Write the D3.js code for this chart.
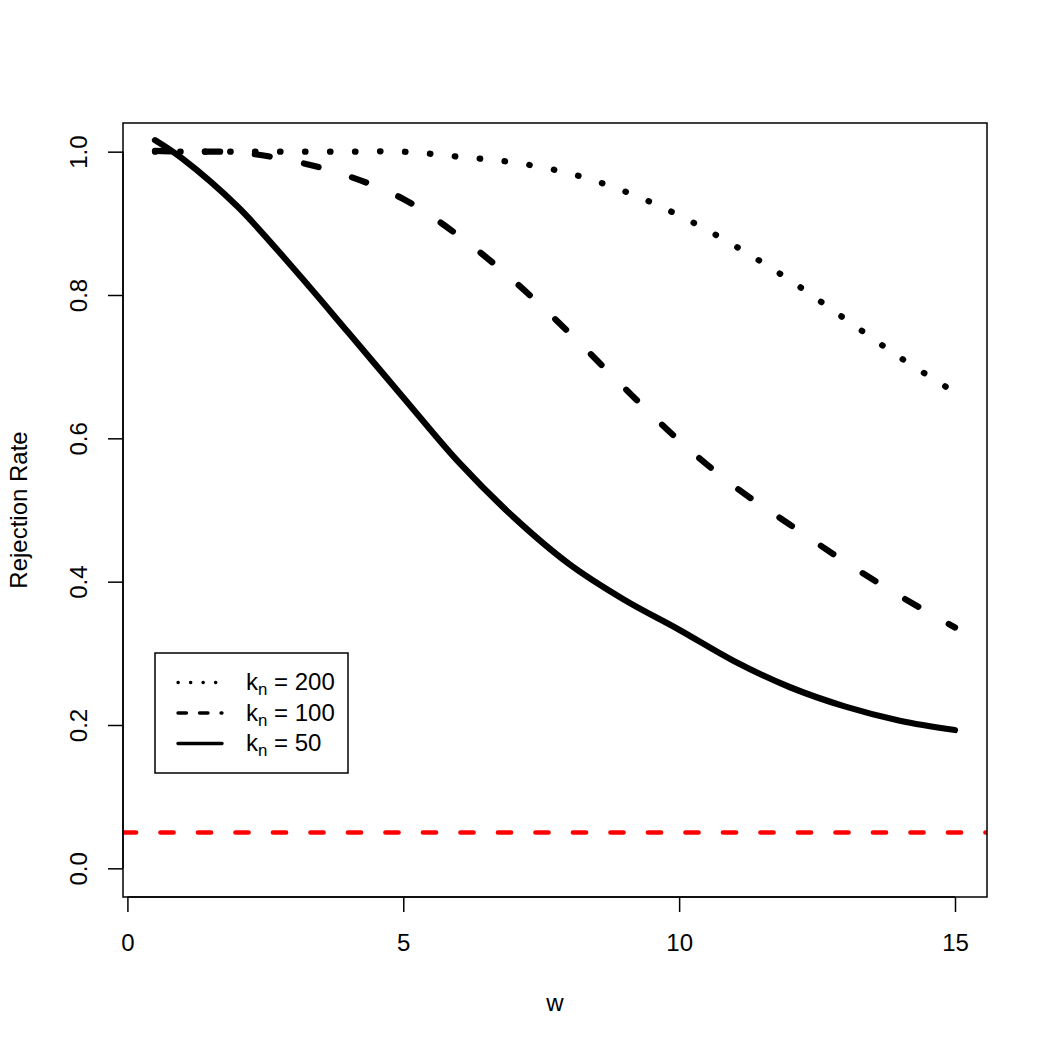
<!DOCTYPE html>
<html>
<head>
<meta charset="utf-8">
<script src="https://cdn.jsdelivr.net/npm/d3@7"></script>
<style>
  html, body { margin: 0; padding: 0; background: #fff; }
  svg { display: block; font-family: "Liberation Sans", Arial, Helvetica, sans-serif; }
</style>
</head>
<body>
<svg id="chart" width="1050" height="1050"></svg>
<script>
// ---- data ----
const wValues   = [0.5, 1, 2, 3, 4, 5, 6, 7, 8, 9, 10, 11, 12, 13, 14, 15];
const rateK200  = [1.000, 1.000, 1.000, 1.000, 1.000, 1.000, 0.993, 0.985, 0.970, 0.945, 0.911, 0.869, 0.821, 0.767, 0.713, 0.664];
const rateK100  = [1.001, 1.000, 0.999, 0.987, 0.966, 0.934, 0.883, 0.820, 0.748, 0.671, 0.597, 0.533, 0.480, 0.428, 0.380, 0.336];
const rateK50   = [1.016, 0.990, 0.923, 0.838, 0.748, 0.657, 0.567, 0.490, 0.425, 0.375, 0.333, 0.289, 0.253, 0.226, 0.206, 0.193];
const nominalLevel = 0.05;
const xTicks = [0, 5, 10, 15];
const yTicks = [0.0, 0.2, 0.4, 0.6, 0.8, 1.0];
const legendLabels = ["200", "100", "50"];
const xTitle = "w";
const yTitle = "Rejection Rate";

// ---- layout ----
const W = 1050, H = 1050;
const L = 123, R = 987, T = 123, B = 897;
const FS = 24;

const svg = d3.select("#chart");
svg.append("rect").attr("width", W).attr("height", H).attr("fill", "#fff");

const x = d3.scaleLinear().domain([-0.08, 15.58]).range([L, R]);
const y = d3.scaleLinear().domain([-0.04, 1.04]).range([B, T]);

svg.append("defs").append("clipPath").attr("id", "plotclip")
  .append("rect").attr("x", L).attr("y", T).attr("width", R - L).attr("height", B - T);

const plot = svg.append("g").attr("clip-path", "url(#plotclip)");

// reference line
plot.append("line")
  .attr("x1", x(-0.08)).attr("x2", x(15.58))
  .attr("y1", y(nominalLevel)).attr("y2", y(nominalLevel))
  .attr("stroke", "#ff0000").attr("stroke-width", 4.7)
  .attr("stroke-linecap", "round")
  .attr("stroke-dasharray", "13,24.5");

const line = d3.line().x(d => x(d[0])).y(d => y(d[1])).curve(d3.curveCatmullRom.alpha(0.5));

const series = [
  { vals: rateK50,  dash: null },
  { vals: rateK100, dash: "15,35" },
  { vals: rateK200, dash: "0.5,24.5" }
];
series.forEach(s => {
  plot.append("path")
    .datum(wValues.map((w, i) => [w, s.vals[i]]))
    .attr("d", line)
    .attr("fill", "none")
    .attr("stroke", "#000")
    .attr("stroke-width", 6.25)
    .attr("stroke-linecap", "round")
    .attr("stroke-linejoin", "round")
    .attr("stroke-dasharray", s.dash);
});

// box
svg.append("rect")
  .attr("x", L).attr("y", T).attr("width", R - L).attr("height", B - T)
  .attr("fill", "none").attr("stroke", "#000").attr("stroke-width", 1.5);

// x axis
const gx = svg.append("g").attr("transform", `translate(0,${B})`)
  .call(d3.axisBottom(x).tickValues(xTicks).tickSize(15).tickFormat(d3.format("d")));
gx.select(".domain").remove();
gx.append("line").attr("x1", x(xTicks[0])).attr("x2", x(xTicks[xTicks.length - 1]))
  .attr("stroke", "#000").attr("stroke-width", 1.5);
gx.selectAll(".tick line").attr("stroke", "#000").attr("stroke-width", 1.5);
gx.selectAll(".tick text")
  .attr("y", 54).attr("dy", 0)
  .attr("font-size", FS).attr("font-family", "Liberation Sans, Arial, sans-serif")
  .attr("fill", "#000");

// y axis
const gy = svg.append("g").attr("transform", `translate(${L},0)`)
  .call(d3.axisLeft(y).tickValues(yTicks).tickSize(15).tickFormat(d3.format(".1f")));
gy.select(".domain").remove();
gy.append("line").attr("y1", y(yTicks[0])).attr("y2", y(yTicks[yTicks.length - 1]))
  .attr("stroke", "#000").attr("stroke-width", 1.5);
gy.selectAll(".tick line").attr("stroke", "#000").attr("stroke-width", 1.5);
gy.selectAll(".tick text")
  .attr("x", 0).attr("y", 0).attr("dy", 0)
  .attr("transform", "translate(-36,0) rotate(-90)")
  .attr("text-anchor", "middle")
  .attr("font-size", FS).attr("font-family", "Liberation Sans, Arial, sans-serif")
  .attr("fill", "#000");

// titles
svg.append("text").attr("x", (L + R) / 2).attr("y", B + 114)
  .attr("text-anchor", "middle").attr("font-size", FS).text(xTitle);
svg.append("text")
  .attr("transform", `translate(${L - 96},${(T + B) / 2}) rotate(-90)`)
  .attr("text-anchor", "middle").attr("font-size", FS).text(yTitle);

// legend
const lg = svg.append("g");
lg.append("rect").attr("x", 155).attr("y", 653).attr("width", 193).attr("height", 120)
  .attr("fill", "#fff").attr("stroke", "#000").attr("stroke-width", 1.5);
const legDash = ["0.3,12.2", "8.5,13", null];
legendLabels.forEach((lab, i) => {
  const ly = 682.5 + 30.5 * i;
  lg.append("line").attr("x1", 178).attr("x2", 222).attr("y1", ly).attr("y2", ly)
    .attr("stroke", "#000").attr("stroke-width", 3.3)
    .attr("stroke-linecap", "round")
    .attr("stroke-dasharray", legDash[i]);
  const t = lg.append("text").attr("x", 246).attr("y", 690 + 30.5 * i).attr("font-size", FS);
  t.append("tspan").text("k");
  t.append("tspan").attr("font-size", FS * 0.7).attr("dy", 5).text("n");
  t.append("tspan").attr("dy", -5).text(" = " + lab);
});
</script>
</body>
</html>
